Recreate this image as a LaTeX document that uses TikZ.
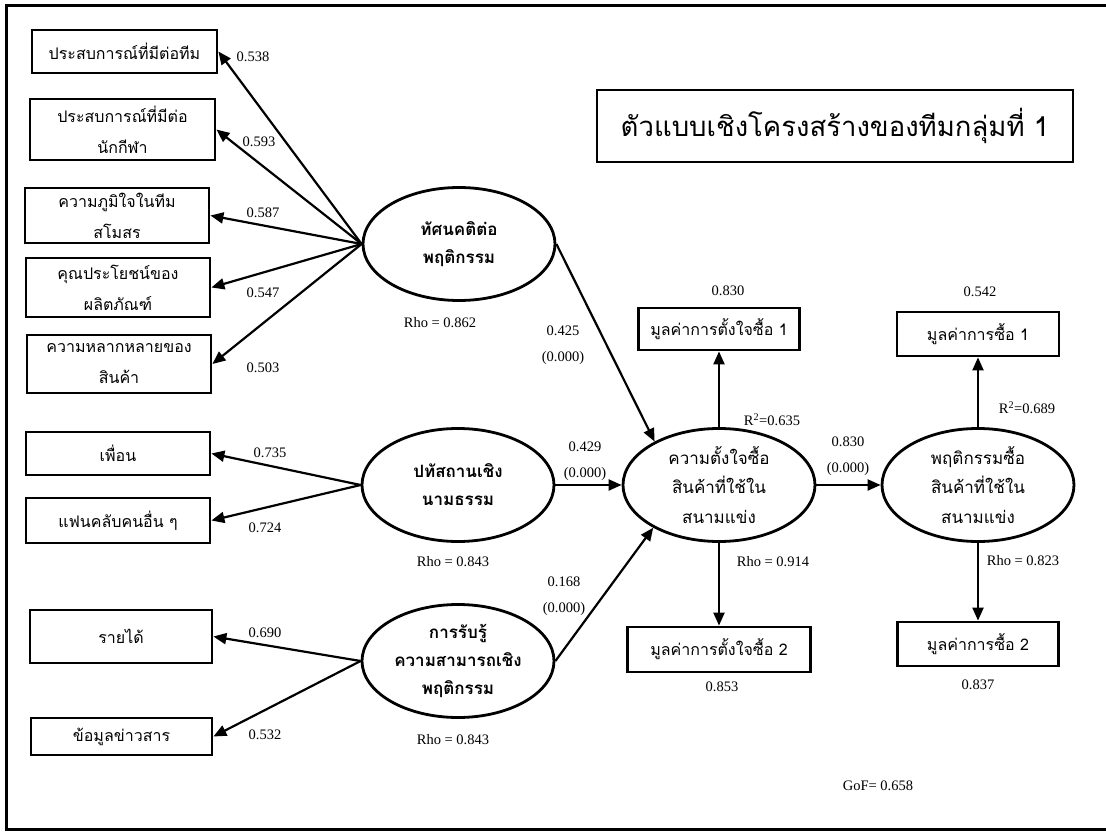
\documentclass[tikz,border=0pt]{standalone}
\usepackage{fontspec}
\setmainfont{Liberation Serif}
\newfontfamily\thai[Script=Thai]{Loma}
\usetikzlibrary{shapes.geometric,arrows.meta}
\begin{document}
\begin{tikzpicture}[x=1pt,y=-1pt,
 ind/.style={draw, line width=2.8pt, inner sep=0pt, align=center, font=\thai\fontsize{16}{31}\selectfont},
 lat/.style={draw, ellipse, line width=2.8pt, minimum width=192pt, minimum height=113pt, inner sep=0pt},
 lattext/.style={align=center, inner sep=0pt, font=\thai\bfseries\fontsize{17}{28}\selectfont},
 lattextr/.style={align=center, inner sep=0pt, font=\thai\fontsize{17}{29.5}\selectfont},
 arr/.style={line width=2.2pt, -{Triangle[length=13pt,width=11pt]}},
 num/.style={font=\fontsize{14.5}{25.5}\selectfont, inner sep=0pt, align=center},
]
\useasboundingbox (0,0) rectangle (1106,832);
\fill[white] (0,0) rectangle (1106,832);
% frame
\draw[line width=3pt] (1106,6) -- (6,6) -- (6,829) -- (1106,829);

% title
\node[draw, line width=2.8pt, minimum width=476pt, minimum height=72pt, inner sep=0pt,
      font=\thai\fontsize{27.5}{32}\selectfont] (title) at (835,126) {ตัวแบบเชิงโครงสร้างของทีมกลุ่มที่ 1};

% indicator boxes (left)
\node[ind, minimum width=185pt, minimum height=43pt] (b1) at (124.5,51.5) {ประสบการณ์ที่มีต่อทีม};
\node[ind, minimum width=185pt, minimum height=61pt] (b2) at (122.5,129.5) {ประสบการณ์ที่มีต่อ\\นักกีฬา};
\node[ind, minimum width=184pt, minimum height=55pt] (b3) at (117,215.5) {ความภูมิใจในทีม\\สโมสร};
\node[ind, minimum width=184pt, minimum height=59pt] (b4) at (118,287.5) {คุณประโยชน์ของ\\ผลิตภัณฑ์};
\node[ind, minimum width=184pt, minimum height=58pt] (b5) at (119,364) {ความหลากหลายของ\\สินค้า};
\node[ind, minimum width=184pt, minimum height=43pt] (b6) at (118,453.5) {เพื่อน};
\node[ind, minimum width=184pt, minimum height=45pt] (b7) at (118,520.5) {แฟนคลับคนอื่น ๆ};
\node[ind, minimum width=182pt, minimum height=53pt] (b8) at (121,636.5) {รายได้};
\node[ind, minimum width=181pt, minimum height=37pt] (b9) at (121.5,736.5) {ข้อมูลข่าวสาร};

% latent variables (left)
\node[lat] (e1) at (459,244) {};
\node[lattext] (e1t) at (e1.center) {ทัศนคติต่อ\\พฤติกรรม};
\node[lat] (e2) at (458,485) {};
\node[lattext] (e2t) at (e2.center) {ปทัสถานเชิง\\นามธรรม};
\node[lat] (e3) at (458,661) {};
\node[lattext] (e3t) at (e3.center) {การรับรู้\\ความสามารถเชิง\\พฤติกรรม};

% latent variables (right)
\node[lat] (int) at (719,485) {};
\node[lattextr] (intt) at (int.center) {ความตั้งใจซื้อ\\สินค้าที่ใช้ใน\\สนามแข่ง};
\node[lat] (beh) at (978,485) {};
\node[lattextr] (beht) at (beh.center) {พฤติกรรมซื้อ\\สินค้าที่ใช้ใน\\สนามแข่ง};

% indicator boxes (right)
\node[ind, minimum width=161pt, minimum height=42pt] (ri1) at (719,329) {มูลค่าการตั้งใจซื้อ 1};
\node[ind, minimum width=183pt, minimum height=45pt] (ri2) at (719,649.5) {มูลค่าการตั้งใจซื้อ 2};
\node[ind, minimum width=162pt, minimum height=44pt] (rb1) at (978,334) {มูลค่าการซื้อ 1};
\node[ind, minimum width=161pt, minimum height=44pt] (rb2) at (978,644) {มูลค่าการซื้อ 2};

% loadings arrows
\foreach \b in {b1,b2,b3,b4,b5} \draw[arr] (e1.west) -- (\b.east);
\foreach \b in {b6,b7} \draw[arr] (e2.west) -- (\b.east);
\foreach \b in {b8,b9} \draw[arr] (e3.west) -- (\b.east);
\draw[arr] (int.north) -- (ri1.south);
\draw[arr] (int.south) -- (ri2.north);
\draw[arr] (beh.north) -- (rb1.south);
\draw[arr] (beh.south) -- (rb2.north);

% structural paths
\draw[arr] (e1.east) -- (int.146);
\draw[arr] (e2.east) -- (int.west);
\draw[arr] (e3.east) -- (int.213);
\draw[arr] (int.east) -- (beh.west);

% loading labels
\node[num] (n1) at (253,57) {0.538};
\node[num] (n2) at (259,142) {0.593};
\node[num] (n3) at (263,213) {0.587};
\node[num] (n4) at (263,293) {0.547};
\node[num] (n5) at (263,368) {0.503};
\node[num] (n6) at (270,453) {0.735};
\node[num] (n7) at (265,528) {0.724};
\node[num] (n8) at (265,633) {0.690};
\node[num] (n9) at (265,735) {0.532};

% rho labels
\node[num] (r1) at (440,323) {Rho = 0.862};
\node[num] (r2) at (453,562) {Rho = 0.843};
\node[num] (r3) at (453,740) {Rho = 0.843};
\node[num] (r4) at (773,562) {Rho = 0.914};
\node[num] (r5) at (1023,561) {Rho = 0.823};

% path coefficients
\node[num] (p1) at (563,345) {0.425\\(0.000)};
\node[num] (p2) at (585,461) {0.429\\(0.000)};
\node[num] (p3) at (564,596) {0.168\\(0.000)};
\node[num] (p4) at (848,456) {0.830\\(0.000)};

% other labels
\node[num] (q1) at (728,291) {0.830};
\node[num] (q2) at (980,292) {0.542};
\node[num] (q3) at (722,687) {0.853};
\node[num] (q4) at (978,685) {0.837};
\node[num] (rs1) at (772,420) {R\textsuperscript{2}=0.635};
\node[num] (rs2) at (1027,408) {R\textsuperscript{2}=0.689};
\node[num] (gof) at (878,786) {GoF= 0.658};
\end{tikzpicture}
\end{document}
